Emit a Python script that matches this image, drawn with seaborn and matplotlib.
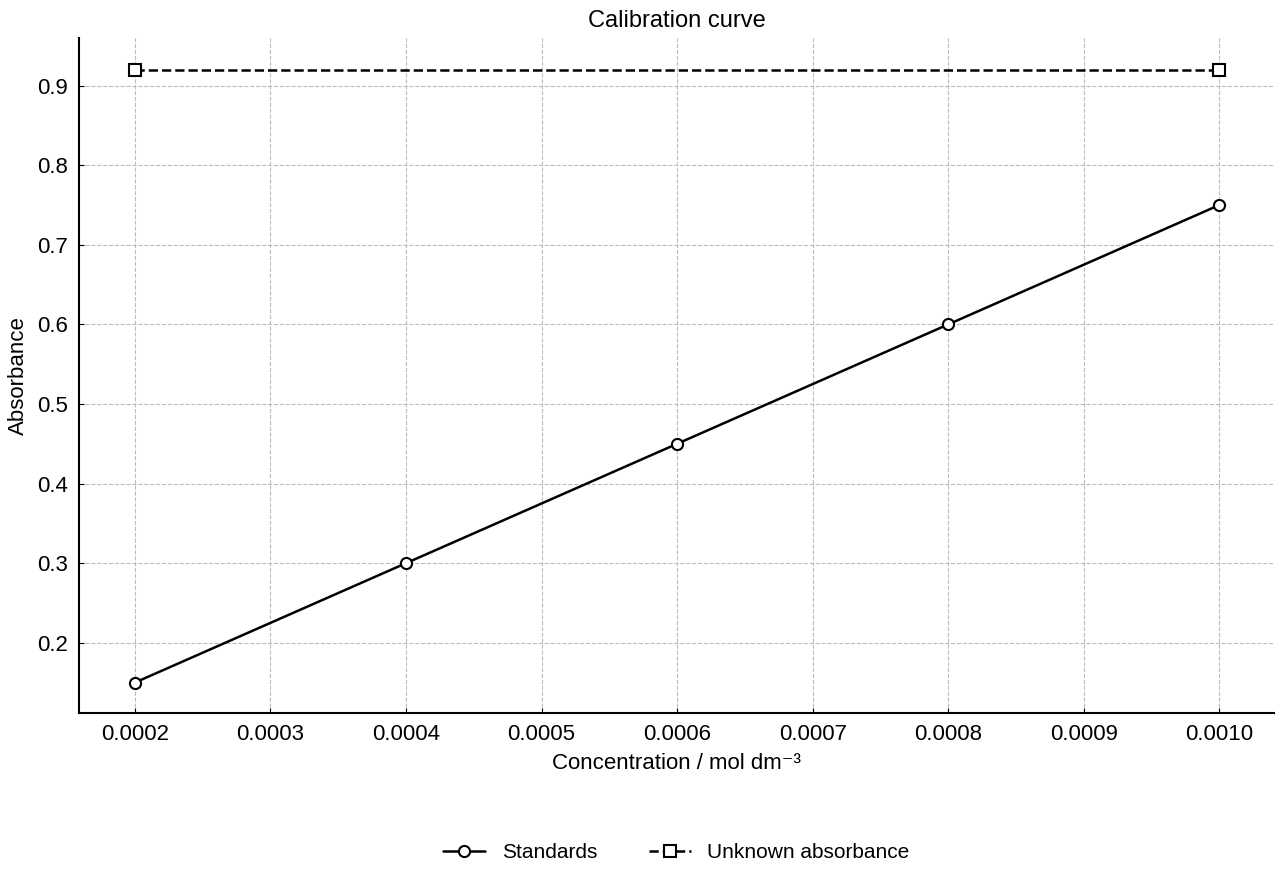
import matplotlib
matplotlib.use("Agg")
import matplotlib.pyplot as plt
import seaborn as sns
import pandas as pd

conc = [0.0002, 0.0004, 0.0006, 0.0008, 0.0010]
absorb = [0.15, 0.30, 0.45, 0.60, 0.75]
unk_x = [0.0002, 0.0010]
unk_y = [0.92, 0.92]

sns.set_style("ticks")
plt.rcParams['font.family'] = ['Liberation Sans', 'DejaVu Sans']
plt.rcParams['font.size'] = 16
for k in ['text.color', 'axes.labelcolor', 'xtick.color', 'ytick.color']:
    plt.rcParams[k] = 'black'

fig = plt.figure(figsize=(12.8, 8.8), dpi=100)
ax = fig.add_axes([0.062, 0.19, 0.933, 0.767])

std = pd.DataFrame({'x': conc, 'y': absorb})
unk = pd.DataFrame({'x': unk_x, 'y': unk_y})
sns.lineplot(data=std, x='x', y='y', ax=ax, color='black', lw=1.8,
             marker='o', markersize=8, markerfacecolor='white',
             markeredgecolor='black', markeredgewidth=1.5, label='Standards')
sns.lineplot(data=unk, x='x', y='y', ax=ax, color='black', lw=1.8, linestyle='--',
             marker='s', markersize=8, markerfacecolor='white',
             markeredgecolor='black', markeredgewidth=1.5, label='Unknown absorbance')

ax.set_xlim(0.000159, 0.00104)
ax.set_ylim(0.112, 0.96)
ax.set_xticks([0.0002 + 0.0001 * i for i in range(9)])
ax.set_xticklabels([f"{0.0002 + 0.0001 * i:.4f}" for i in range(9)])
ax.set_yticks([0.2, 0.3, 0.4, 0.5, 0.6, 0.7, 0.8, 0.9])
ax.grid(True, linestyle='--', color='#bbbbbb', linewidth=0.8)
ax.tick_params(direction='in', labelsize=16, pad=8)
for s in ['top', 'right']:
    ax.spines[s].set_visible(False)
for s in ['left', 'bottom']:
    ax.spines[s].set_linewidth(1.5)
    ax.spines[s].set_color('black')
ax.set_xlabel('Concentration / mol dm⁻³', fontsize=16, labelpad=6)
ax.set_ylabel('Absorbance', fontsize=16, labelpad=6)
ax.set_title('Calibration curve', fontsize=17, pad=8)
ax.legend(loc='upper center', bbox_to_anchor=(0.5, -0.165), ncol=2, frameon=False,
          fontsize=15, columnspacing=2.5)

fig.savefig('out.png', dpi=100)
